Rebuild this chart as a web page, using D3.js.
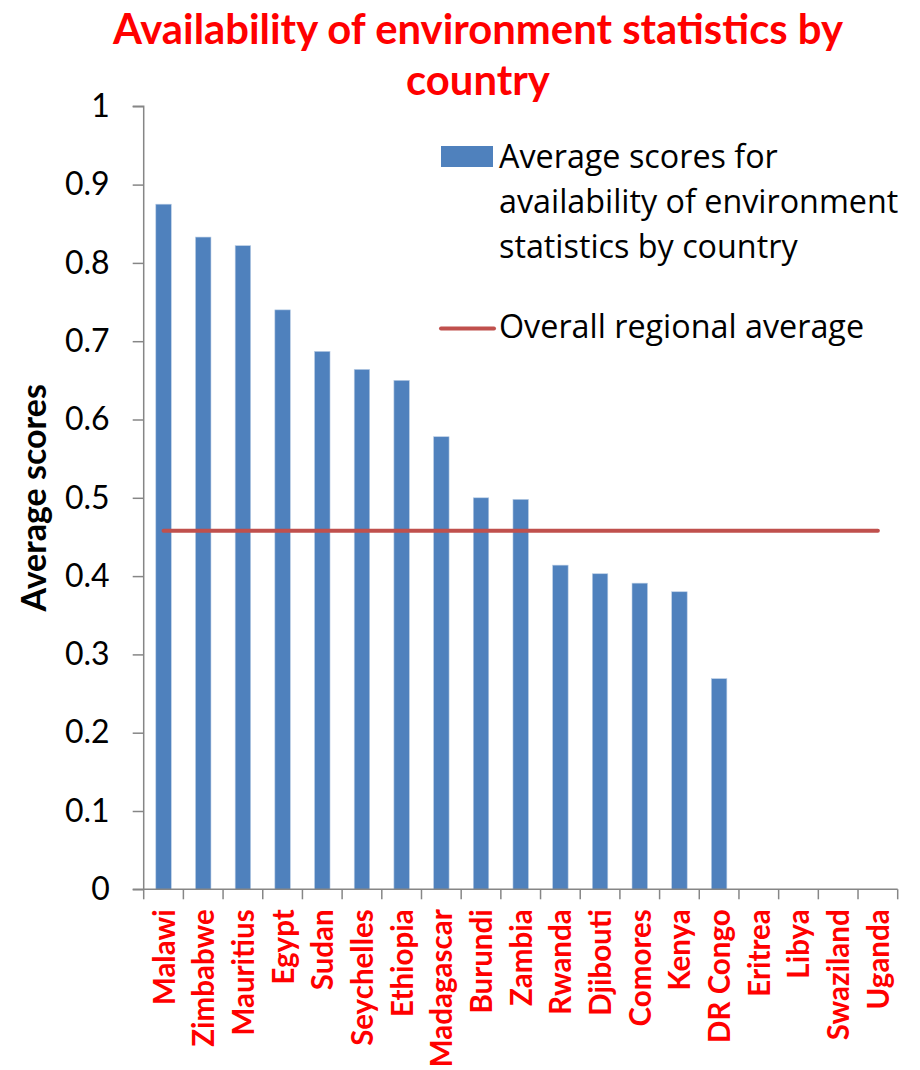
<!DOCTYPE html>
<html><head><meta charset="utf-8">
<script src="https://cdn.jsdelivr.net/npm/d3@7/dist/d3.min.js"></script>
<style>body{margin:0;background:#fff}svg{display:block}</style>
</head><body>
<script>
const countries = ["Malawi","Zimbabwe","Mauritius","Egypt","Sudan","Seychelles","Ethiopia","Madagascar","Burundi","Zambia","Rwanda","Djibouti","Comores","Kenya","DR Congo","Eritrea","Libya","Swaziland","Uganda"];
const scores = [0.875,0.833,0.822,0.740,0.687,0.664,0.650,0.578,0.500,0.498,0.414,0.403,0.391,0.380,0.269,0,0,0,0];
const regionalAverage = 0.458;
const yTicks = [0,0.1,0.2,0.3,0.4,0.5,0.6,0.7,0.8,0.9,1];
const yTickLabels = ["0","0.1","0.2","0.3","0.4","0.5","0.6","0.7","0.8","0.9","1"];
const titleLines = ["Availability of environment statistics by","country"];
const legendBarLabel = ["Average scores for","availability of environment","statistics by country"];
const legendLineLabel = "Overall regional average";
const yAxisTitle = "Average scores";

(function(){
const W=920,H=1070;
const boldFont = "Lato, 'Open Sans', sans-serif";
const regFont = "'Open Sans', Lato, sans-serif";
const svg = d3.select("body").append("svg").attr("width",W).attr("height",H);
const pL=143.7, pR=897.7, pT=106.3, pB=889.3;
const x = d3.scaleBand().domain(countries).range([pL,pR]).paddingInner(0.61).paddingOuter(0.305);
const xc = d3.scaleBand().domain(countries).range([pL,pR]);
const y = d3.scaleLinear().domain([0,1]).range([pB,pT]);

svg.append("g").selectAll("text").data(titleLines).join("text")
  .attr("x",478).attr("y",(d,i)=>44+i*51)
  .attr("text-anchor","middle").attr("fill","#ff0000")
  .attr("font-family",boldFont).attr("font-weight","bold").attr("font-size",41.8)
  .text(d=>d);

svg.append("g").selectAll("rect").data(countries).join("rect")
  .attr("x",d=>x(d)).attr("width",x.bandwidth())
  .attr("y",(d,i)=>y(scores[i])).attr("height",(d,i)=>pB-y(scores[i]))
  .attr("fill","#4f81bd").attr("stroke","#b9cde5").attr("stroke-width",0.6);

const ya = svg.append("g").attr("transform",`translate(${pL},0)`)
  .call(d3.axisLeft(y).tickValues(yTicks).tickFormat((d,i)=>yTickLabels[i]).tickSize(11).tickPadding(23));
ya.select(".domain").attr("stroke","#868686").attr("stroke-width",1.5).attr("d",`M-11,${pT}H0V${pB}H-11`);
ya.selectAll(".tick line").attr("stroke","#868686").attr("stroke-width",1.5);
ya.selectAll(".tick text").attr("font-family",boldFont).attr("font-size",32).attr("fill","#000");

const xa = svg.append("g").attr("transform",`translate(0,${pB})`)
  .call(d3.axisBottom(xc).tickSize(0).tickFormat(""));
xa.select(".domain").attr("stroke","#868686").attr("stroke-width",1.5).attr("d",`M${pL},0H${pR}`);
xa.selectAll(".tick").remove();
const xt = svg.append("g");
xt.selectAll("line").data(d3.range(countries.length+1)).join("line")
  .attr("x1",i=>pL+i*xc.step()).attr("x2",i=>pL+i*xc.step())
  .attr("y1",pB).attr("y2",pB+10).attr("stroke","#868686").attr("stroke-width",1.5);
xt.selectAll("text").data(countries).join("text")
  .attr("transform",d=>`translate(${xc(d)+xc.bandwidth()/2+11},${pB+20}) rotate(-90)`)
  .attr("text-anchor","end").attr("fill","#ff0000")
  .attr("font-family",boldFont).attr("font-weight","bold").attr("font-size",29.5)
  .text(d=>d);

svg.append("text").attr("transform",`translate(46,${(pT+pB)/2}) rotate(-90)`)
  .attr("text-anchor","middle").attr("font-family",boldFont).attr("font-weight","bold").attr("font-size",34)
  .text(yAxisTitle);

const first=countries[0], last=countries[countries.length-1];
svg.append("line")
  .attr("x1",xc(first)+xc.bandwidth()/2).attr("x2",xc(last)+xc.bandwidth()/2)
  .attr("y1",y(regionalAverage)).attr("y2",y(regionalAverage))
  .attr("stroke","#c0504d").attr("stroke-width",4).attr("stroke-linecap","round");

const lg = svg.append("g");
lg.append("rect").attr("x",441).attr("y",146).attr("width",52).attr("height",21).attr("fill","#4f81bd");
lg.selectAll("text.l1").data(legendBarLabel).join("text").attr("class","l1")
  .attr("x",499).attr("y",(d,i)=>167.5+i*45.2)
  .attr("font-family",regFont).attr("font-size",32.3).attr("fill","#000").text(d=>d);
lg.append("line").attr("x1",441).attr("x2",494).attr("y1",328.5).attr("y2",328.5)
  .attr("stroke","#c0504d").attr("stroke-width",4).attr("stroke-linecap","round");
lg.append("text").attr("x",499).attr("y",338).attr("font-family",regFont).attr("font-size",32.3).attr("fill","#000").text(legendLineLabel);
})();
</script>
</body></html>
